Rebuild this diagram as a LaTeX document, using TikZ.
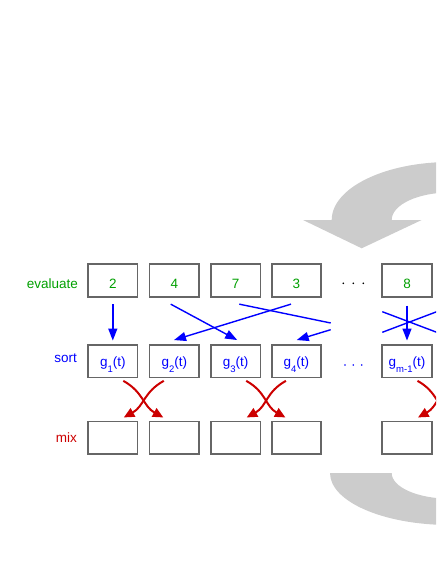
\documentclass[tikz,border=0pt]{standalone}
\usepackage{fontspec}
\setmainfont{Liberation Sans}
\usetikzlibrary{arrows.meta}
\definecolor{evgreen}{RGB}{0,160,0}
\definecolor{sortblue}{RGB}{0,0,255}
\definecolor{mixred}{RGB}{204,0,0}
\definecolor{boxgray}{RGB}{102,102,102}
\definecolor{cyclegray}{RGB}{204,204,204}
\newcommand{\gfun}[1]{g\raisebox{-6.5pt}{\fontsize{9.5}{10}\selectfont #1}(t)}
\begin{document}
\begin{tikzpicture}[x=1pt,y=-1pt,
  font=\fontsize{13.5}{16}\selectfont,
  cell/.style={draw=boxgray, line width=1.8pt, fill=white, minimum width=49.5pt, minimum height=32.5pt, inner sep=0pt},
  evcell/.style={cell, text=evgreen, text height=15pt, text depth=0pt},
  socell/.style={cell, text=sortblue, text height=9.6pt, text depth=0pt},
  rowlabel/.style={anchor=base east, inner sep=0pt},
  barrow/.style={draw=sortblue, line width=1.4pt, -{Triangle[length=12pt,width=9pt]}},
  bline/.style={draw=sortblue, line width=1.4pt},
  rarrow/.style={draw=mixred, line width=2pt, -{Triangle[length=10.5pt,width=9.5pt]}},
  cyc/.style={fill=cyclegray, draw=none}
]
\useasboundingbox (0,0) rectangle (436,564);
\clip (0,0) rectangle (436,564);

% cycle arrow (gray)
\fill[cyc] (361.7,248.3) -- (303,220) -- (331.7,220)
  .. controls (331.7,188) and (384.7,162) .. (450,162) -- (470,162) -- (470,192.5) -- (450,192.5)
  .. controls (417.8,192.5) and (391.7,204.8) .. (391.7,220) -- (421.7,220) -- cycle;
\fill[cyc] (330,473) .. controls (330,501.7) and (383.7,525) .. (450,525) -- (470,525) -- (470,498.7) -- (450,498.7)
  .. controls (417.8,498.7) and (391.7,487.2) .. (391.7,473) -- cycle;

% row labels
\node[rowlabel, text=evgreen] (lev) at (78,288) {evaluate};
\node[rowlabel, text=sortblue] (lso) at (77,362.5) {sort};
\node[rowlabel, text=mixred] (lmi) at (77,442.7) {mix};

% evaluate row
\node[evcell] (e1) at (112.8,280.5) {2};
\node[evcell] (e2) at (174.3,280.5) {4};
\node[evcell] (e3) at (235.7,280.5) {7};
\node[evcell] (e4) at (296.4,280.5) {3};
\node[evcell] (e5) at (407.0,280.5) {8};

% sort row
\node[socell] (s1) at (112.8,361.2) {\gfun{1}};
\node[socell] (s2) at (174.3,361.2) {\gfun{2}};
\node[socell] (s3) at (235.7,361.2) {\gfun{3}};
\node[socell] (s4) at (296.4,361.2) {\gfun{4}};
\node[socell] (s5) at (407.0,361.2) {\gfun{m-1}};

% mix row
\node[cell] (m1) at (112.8,437.8) {};
\node[cell] (m2) at (174.3,437.8) {};
\node[cell] (m3) at (235.7,437.8) {};
\node[cell] (m4) at (296.4,437.8) {};
\node[cell] (m5) at (407.0,437.8) {};

% dots
\foreach \x in {343.3,353.3,363.3} \fill[black] (\x,283.3) circle (0.9pt);
\foreach \x in {345,353.3,361.7} \fill[sortblue] (\x,365) circle (0.9pt);

% blue sorting connectors
\coordinate (gapA) at (330.7,323);
\coordinate (gapB) at (330.7,329.7);
\coordinate (xa1) at (382.3,311.7);
\coordinate (xa2) at (436.5,332.2);
\coordinate (xb1) at (382.3,332.3);
\coordinate (xb2) at (436.5,311.8);
\draw[barrow] ([yshift=-6.5pt]e1.south) -- ([yshift=3.5pt]s1.north);
\draw[barrow] ([xshift=-3.6pt,yshift=-6.5pt]e2.south) -- ([xshift=1.5pt,yshift=4pt]s3.north);
\draw[barrow] ([xshift=-5.4pt,yshift=-6.5pt]e4.south) -- ([xshift=-0.3pt,yshift=4pt]s2.north);
\draw[bline] ([xshift=3.6pt,yshift=-6.5pt]e3.south) -- (gapA);
\draw[barrow] (gapB) -- ([xshift=0.3pt,yshift=4pt]s4.north);
\draw[bline] (xa1) -- (xa2);
\draw[bline] (xb1) -- (xb2);
\draw[barrow] ([yshift=-8pt]e5.south) -- ([yshift=3.5pt]s5.north);

% red mixing connectors
\coordinate (s6b) at (457.8,380);
\coordinate (m6t) at (457.3,418.35);
\draw[rarrow] ([xshift=10.5pt,yshift=-2.5pt]s1.south) .. controls +(20,11) and +(-20,-11) .. ([xshift=-11pt,yshift=3.2pt]m2.north);
\draw[rarrow] ([xshift=-10.5pt,yshift=-2.5pt]s2.south) .. controls +(-20,11) and +(20,-11) .. ([xshift=11pt,yshift=3.2pt]m1.north);
\draw[rarrow] ([xshift=10.5pt,yshift=-2.5pt]s3.south) .. controls +(20,11) and +(-20,-11) .. ([xshift=-11pt,yshift=3.2pt]m4.north);
\draw[rarrow] ([xshift=-10.5pt,yshift=-2.5pt]s4.south) .. controls +(-20,11) and +(20,-11) .. ([xshift=11pt,yshift=3.2pt]m3.north);
\draw[rarrow] ([xshift=10.5pt,yshift=-2.5pt]s5.south) .. controls +(20,11) and +(-20,-11) .. (m6t);
\draw[rarrow] (s6b) .. controls +(-20,11) and +(20,-11) .. ([xshift=11pt,yshift=3.2pt]m5.north);
\end{tikzpicture}
\end{document}
